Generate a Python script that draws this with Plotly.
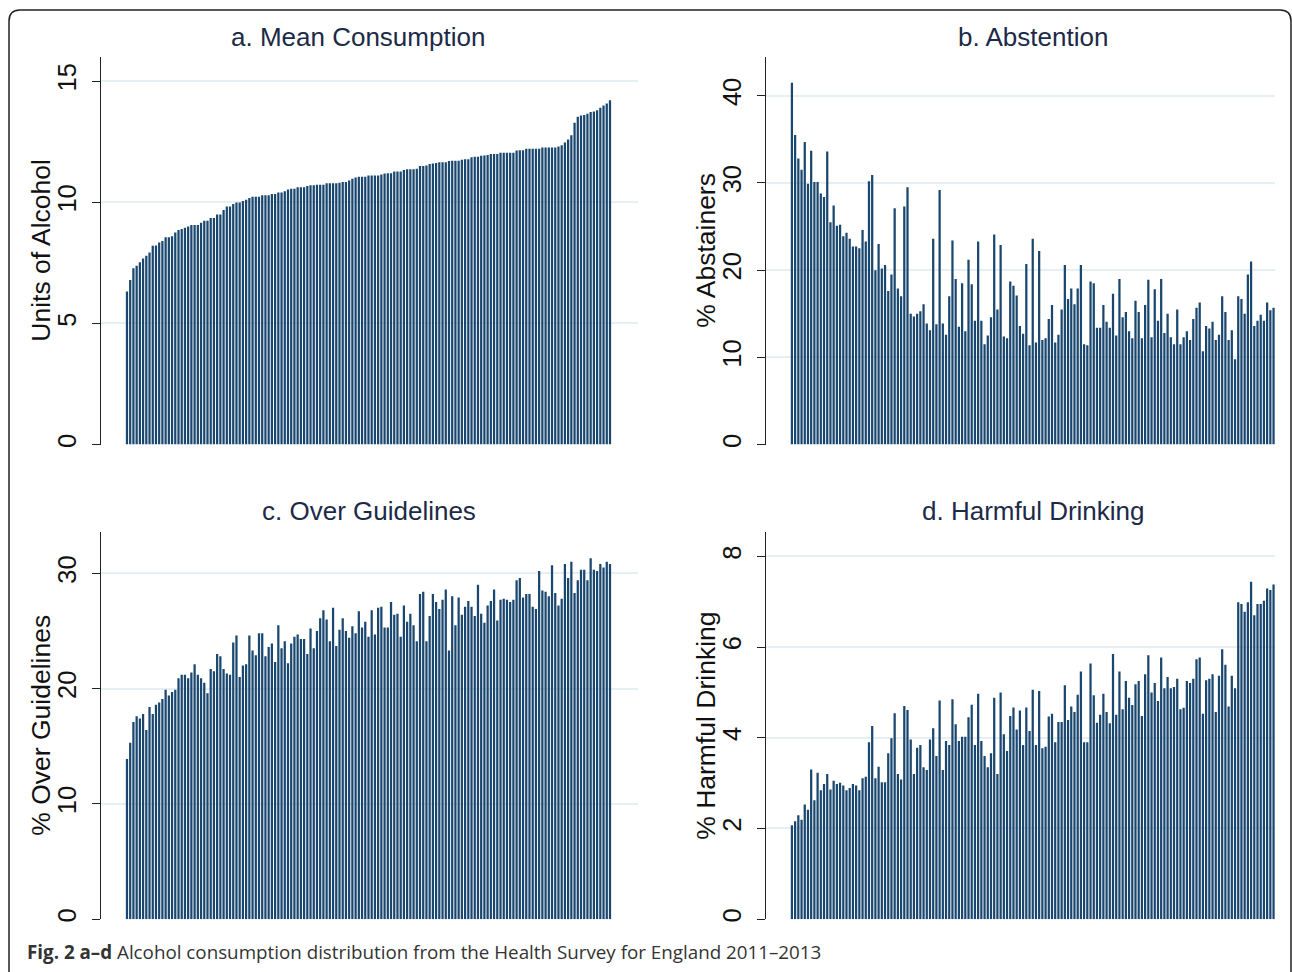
import plotly.graph_objects as go

W, H = 1292, 972

# ---------------- data (151 areas, ordered by mean consumption) ----------------
mean_units = [
    6.32, 6.79, 7.28, 7.38, 7.52, 7.68, 7.79, 7.93, 8.2, 8.22,
    8.34, 8.4, 8.56, 8.56, 8.6, 8.75, 8.86, 8.9, 8.95, 9.0,
    9.06, 9.06, 9.06, 9.15, 9.24, 9.24, 9.35, 9.35, 9.49, 9.49,
    9.68, 9.82, 9.82, 9.93, 9.99, 9.99, 10.05, 10.1, 10.18, 10.23,
    10.23, 10.23, 10.29, 10.29, 10.29, 10.34, 10.34, 10.4, 10.4, 10.45,
    10.53, 10.56, 10.56, 10.62, 10.62, 10.62, 10.67, 10.7, 10.7, 10.72,
    10.72, 10.72, 10.78, 10.78, 10.78, 10.78, 10.8, 10.84, 10.84, 10.9,
    10.97, 11.02, 11.05, 11.05, 11.05, 11.1, 11.1, 11.1, 11.1,
    11.14, 11.19, 11.2, 11.2, 11.27, 11.27, 11.27,
    11.33, 11.36, 11.36, 11.36, 11.38, 11.5, 11.5, 11.52,
    11.58, 11.6, 11.62, 11.65, 11.65, 11.65, 11.7, 11.71, 11.71, 11.71,
    11.75, 11.77, 11.77, 11.86, 11.88, 11.88, 11.92, 11.93, 11.95,
    11.99, 11.99, 11.99, 12.04, 12.04, 12.04, 12.04, 12.04,
    12.13, 12.15, 12.15, 12.21, 12.21, 12.21, 12.21, 12.21,
    12.26, 12.26, 12.26, 12.26, 12.26,
    12.3, 12.35, 12.46, 12.59, 12.76, 13.28, 13.53, 13.58, 13.6, 13.65,
    13.72, 13.74, 13.8, 13.9, 13.99, 14.07, 14.21,
]

abstainers = [
    41.5, 35.5, 32.8, 31.5, 34.7, 29.9, 33.7, 30.1, 30.1, 28.8,
    28.4, 33.6, 25.5, 27.4, 25.1, 25.2, 23.9, 24.3, 23.6, 22.7,
    22.7, 22.5, 24.6, 23.3, 30.2, 30.9, 20.0, 23.0, 20.2, 20.6,
    17.6, 19.5, 27.1, 17.9, 17.0, 27.3, 29.5, 15.0, 14.7, 15.0,
    15.3, 16.1, 13.9, 13.1, 23.6, 13.8, 29.2, 13.9, 12.6, 17.0,
    23.4, 19.0, 13.5, 18.5, 13.0, 21.2, 18.4, 14.2, 23.3, 14.2,
    11.5, 12.5, 14.6, 24.1, 15.5, 22.9, 12.4, 12.2, 18.7, 18.2,
    17.1, 13.6, 12.7, 20.7, 11.4, 23.6, 11.7, 22.2, 12.0, 12.2,
    14.4, 16.0, 11.7, 12.6, 15.5, 20.6, 16.7, 17.9, 16.1, 17.9,
    20.6, 11.5, 11.4, 18.7, 18.5, 13.4, 13.4, 16.0, 14.1, 13.4,
    17.3, 12.5, 19.0, 14.6, 15.2, 13.0, 12.2, 16.5, 15.2, 12.2,
    16.0, 18.9, 12.3, 17.8, 14.2, 19.0, 12.8, 15.0, 12.3, 11.5,
    15.5, 11.5, 12.3, 13.0, 12.0, 14.4, 15.7, 16.3, 10.7, 13.6,
    13.3, 14.1, 12.0, 12.6, 17.0, 15.2, 12.0, 13.1, 9.8, 17.0,
    16.7, 15.0, 19.5, 21.0, 13.6, 14.2, 14.9, 14.2, 16.3, 15.4,
    15.7,
]

over_guidelines = [
    13.9, 15.3, 17.1, 17.6, 17.4, 17.8, 16.4, 18.4, 17.8, 18.6,
    18.8, 19.1, 19.9, 19.4, 19.7, 19.9, 20.9, 21.2, 21.2, 20.9,
    21.4, 22.1, 21.2, 20.9, 20.5, 19.6, 21.7, 21.5, 23.0, 22.8,
    21.7, 21.3, 21.2, 24.0, 24.6, 21.0, 22.0, 22.1, 24.6, 23.3,
    22.9, 24.8, 24.8, 22.8, 23.6, 23.9, 22.3, 25.5, 23.5, 24.1,
    22.2, 23.9, 24.5, 24.7, 24.3, 24.3, 23.0, 25.2, 23.5, 25.0,
    26.1, 26.8, 26.0, 24.1, 27.0, 23.7, 25.1, 26.1, 25.0, 24.4,
    25.4, 24.8, 26.7, 25.3, 25.8, 24.5, 26.8, 24.7, 27.0, 27.1,
    25.3, 25.3, 27.5, 26.4, 26.5, 24.5, 27.2, 25.8, 26.5, 25.5,
    24.1, 28.2, 28.4, 24.1, 26.3, 28.2, 27.5, 26.9, 27.7, 28.6,
    23.3, 28.0, 25.5, 27.9, 26.4, 27.1, 27.6, 27.1, 26.3, 29.0,
    26.5, 25.7, 27.2, 27.6, 28.6, 25.9, 27.7, 27.8, 27.7, 27.5,
    27.7, 29.4, 29.6, 27.9, 28.2, 28.2, 27.1, 26.9, 30.2, 28.5,
    28.4, 28.0, 30.7, 28.3, 27.2, 27.8, 30.8, 29.6, 31.0, 28.3,
    29.4, 30.3, 30.3, 29.4, 31.3, 30.3, 30.2, 30.8, 30.5, 31.0,
    30.8,
]

harmful = [
    2.07, 2.16, 2.29, 2.19, 2.53, 2.41, 3.30, 2.62, 3.23, 2.84,
    2.98, 3.20, 2.86, 3.05, 2.98, 3.01, 2.95, 2.84, 2.89, 2.98,
    2.95, 2.84, 3.11, 3.14, 3.90, 4.26, 3.11, 3.36, 3.02, 3.02,
    3.66, 3.99, 4.54, 3.20, 3.08, 4.70, 4.61, 3.96, 3.20, 3.78,
    3.84, 3.35, 3.29, 3.96, 4.21, 3.60, 4.82, 3.29, 3.93, 3.84,
    4.85, 4.30, 3.93, 4.02, 4.02, 4.45, 4.73, 3.84, 4.97, 3.93,
    3.60, 3.35, 3.66, 4.88, 3.20, 5.00, 4.08, 3.71, 4.48, 4.67,
    4.18, 4.60, 3.84, 4.67, 4.15, 5.06, 3.84, 5.03, 3.77, 3.80,
    4.47, 4.53, 3.90, 4.35, 4.35, 5.16, 4.39, 4.69, 4.57, 4.95,
    5.46, 3.90, 3.90, 5.64, 4.94, 4.33, 4.51, 4.97, 4.57, 4.32,
    5.85, 4.51, 5.46, 4.63, 5.25, 4.88, 4.72, 5.18, 5.25, 4.48,
    5.40, 5.82, 5.00, 5.21, 4.81, 5.77, 5.09, 5.34, 5.09, 5.12,
    5.30, 4.63, 4.66, 5.25, 5.21, 5.30, 5.73, 5.77, 4.53, 5.27,
    5.30, 5.40, 4.57, 5.37, 5.95, 5.61, 4.69, 5.37, 5.09, 6.99,
    6.95, 6.78, 6.99, 7.44, 6.70, 6.95, 6.95, 7.02, 7.29, 7.26,
    7.38,
]

areas = list(range(1, len(mean_units) + 1))

titles = ["a. Mean Consumption", "b. Abstention", "c. Over Guidelines", "d. Harmful Drinking"]
ytitles = ["Units of Alcohol", "% Abstainers", "% Over Guidelines", "% Harmful Drinking"]
yticks = [[0, 5, 10, 15], [0, 10, 20, 30, 40], [0, 10, 20, 30], [0, 2, 4, 6, 8]]
series = [mean_units, abstainers, over_guidelines, harmful]

# ---------------- layout geometry (pixels) ----------------
NAVY = "#1a476f"
GRID = "#e6eff1"
AX = "#222222"
TITLE_C = "#1c2a48"
FONT = "Liberation Sans, Arial, sans-serif"

def px_x(p):
    return p / W

def px_y(p):
    return 1 - p / H

# (left, right, top, bottom) pixel boxes of plot regions
boxes = [
    (101, 638, 57, 446),
    (766, 1275, 57, 446),
    (101, 638, 534, 922),
    (766, 1275, 534, 922),
]
yranges = [[0, 16.0], [0, 44.46], [0, 33.55], [0, 8.53]]
xranges = [[-7.07, 159.7], [-7.07, 151.45], [-7.07, 159.7], [-7.07, 151.45]]
title_pos = [(358, 37), (1033, 37), (369, 513), (1033, 513)]
ytitle_x = [41, 706, 41, 706]

fig = go.Figure()
layout = dict(
    width=W, height=H,
    margin=dict(l=0, r=0, t=0, b=0),
    paper_bgcolor="white", plot_bgcolor="white",
    bargap=0.3, showlegend=False,
    font=dict(family=FONT, color="#111111"),
)
annotations = []
for i in range(4):
    n = "" if i == 0 else str(i + 1)
    fig.add_trace(go.Bar(
        x=areas, y=series[i], xaxis="x" + n, yaxis="y" + n,
        marker=dict(color=NAVY, line=dict(width=0)),
        hoverinfo="y",
    ))
    l, r, t, b = boxes[i]
    layout["xaxis" + n] = dict(
        domain=[px_x(l), px_x(r)], range=xranges[i], anchor="y" + n,
        showticklabels=False, showgrid=False, zeroline=False, showline=False, ticks="",
    )
    layout["yaxis" + n] = dict(
        domain=[px_y(b), px_y(t)], range=yranges[i], anchor="x" + n,
        tickvals=yticks[i], ticktext=[str(v) for v in yticks[i]],
        tickangle=-90, ticks="outside", ticklen=8, tickwidth=1, tickcolor=AX,
        ticklabelstandoff=6,
        showline=True, linecolor=AX, linewidth=1,
        showgrid=True, gridcolor=GRID, gridwidth=2,
        zeroline=False,
        tickfont=dict(size=25.5, color="#111111", family=FONT),
    )
    annotations.append(dict(
        text=titles[i], xref="paper", yref="paper",
        x=px_x(title_pos[i][0]), y=px_y(title_pos[i][1]),
        xanchor="center", yanchor="middle", showarrow=False,
        font=dict(size=26, color=TITLE_C, family=FONT),
    ))
    annotations.append(dict(
        text=ytitles[i], xref="paper", yref="paper",
        x=px_x(ytitle_x[i]), y=px_y((t + b) / 2),
        xanchor="center", yanchor="middle", showarrow=False, textangle=-90,
        font=dict(size=26.5, color="#111111", family=FONT),
    ))

annotations.append(dict(
    text="<b>Fig. 2 a–d</b> Alcohol consumption distribution from the Health Survey for England 2011–2013",
    xref="paper", yref="paper", x=px_x(25), y=px_y(955),
    xanchor="left", yanchor="middle", showarrow=False,
    font=dict(size=18.8, color="#333333", family="Open Sans, sans-serif"),
))
layout["annotations"] = annotations

# rounded frame (open at bottom, as in the cropped figure)
def P(x, y):
    return f"{px_x(x):.5f},{px_y(y):.5f}"

path = (f"M{P(9, 990)} L{P(9, 21)} Q{P(9, 10)} {P(20, 10)} "
        f"L{P(1280, 10)} Q{P(1291, 10)} {P(1291, 21)} L{P(1291, 990)}")
layout["shapes"] = [dict(type="path", xref="paper", yref="paper", path=path,
                         line=dict(color="#222222", width=1.5))]

fig.update_layout(**layout)
fig.write_html("out.html")
